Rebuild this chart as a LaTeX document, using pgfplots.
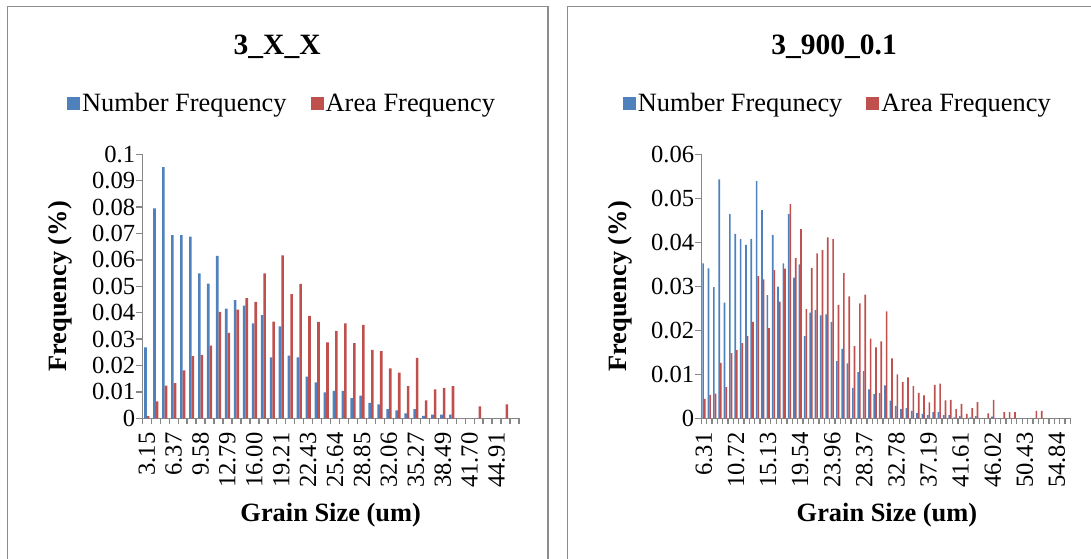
\documentclass[border=0pt]{standalone}
\usepackage{fontspec}
\setmainfont{Liberation Serif}
\usepackage{pgfplots}
\usepackage{pgfplotstable}
\pgfplotsset{compat=1.18}

\definecolor{numblue}{HTML}{4F81BD}
\definecolor{areared}{HTML}{C0504D}
\definecolor{axisgray}{HTML}{868686}
\definecolor{framegray}{HTML}{8C8C8C}
\newcommand{\fs}{\fontsize{26.4}{30}\selectfont}
\newcommand{\fst}{\fontsize{24.6}{28}\selectfont}
\newcommand{\fsh}{\fontsize{29.5}{34}\selectfont}

% left panel: 3_X_X (category index, number freq, area freq)
\pgfplotstableread{
x num area
0 0.0269 0.0008
1 0.0795 0.0064
2 0.0951 0.0124
3 0.0694 0.0133
4 0.0694 0.0182
5 0.0688 0.0236
6 0.0549 0.0240
7 0.0510 0.0275
8 0.0615 0.0403
9 0.0415 0.0324
10 0.0448 0.0412
11 0.0427 0.0455
12 0.0360 0.0441
13 0.0391 0.0549
14 0.0231 0.0366
15 0.0348 0.0617
16 0.0237 0.0470
17 0.0231 0.0509
18 0.0158 0.0388
19 0.0136 0.0365
20 0.0098 0.0288
21 0.0104 0.0331
22 0.0104 0.0360
23 0.0076 0.0285
24 0.0086 0.0354
25 0.0058 0.0259
26 0.0053 0.0254
27 0.0035 0.0189
28 0.0030 0.0173
29 0.0019 0.0122
30 0.0035 0.0229
31 0.0009 0.0068
32 0.0014 0.0110
33 0.0014 0.0115
34 0.0014 0.0122
35 0 0
36 0 0
37 0 0.0045
38 0 0
39 0 0
40 0 0.0053
41 0 0
}\leftdata

% right panel: 3_900_0.1
\pgfplotstableread{
x num area
0 0.0352 0.0044
1 0.0341 0.0053
2 0.0298 0.0056
3 0.0543 0.0126
4 0.0263 0.0071
5 0.0464 0.0148
6 0.0419 0.0155
7 0.0407 0.0171
8 0.0394 0.0187
9 0.0408 0.0219
10 0.0539 0.0323
11 0.0473 0.0316
12 0.0280 0.0205
13 0.0417 0.0337
14 0.0299 0.0265
15 0.0352 0.0340
16 0.0464 0.0487
17 0.0320 0.0364
18 0.0350 0.0430
19 0.0187 0.0248
20 0.0240 0.0342
21 0.0246 0.0375
22 0.0234 0.0382
23 0.0236 0.0411
24 0.0219 0.0407
25 0.0130 0.0258
26 0.0158 0.0330
27 0.0125 0.0277
28 0.0069 0.0164
29 0.0105 0.0261
30 0.0107 0.0281
31 0.0066 0.0181
32 0.0055 0.0161
33 0.0057 0.0175
34 0.0075 0.0243
35 0.0040 0.0136
36 0.0028 0.0100
37 0.0021 0.0082
38 0.0023 0.0093
39 0.0017 0.0073
40 0.0012 0.0058
41 0.0010 0.0052
42 0.0007 0.0036
43 0.0014 0.0076
44 0.0014 0.0079
45 0.0007 0.0041
46 0.0007 0.0042
47 0.0002 0.0021
48 0.0005 0.0033
49 0 0.0010
50 0.0002 0.0023
51 0.0005 0.0037
52 0 0
53 0 0.0011
54 0.0004 0.0042
55 0 0
56 0 0.0014
57 0 0.0014
58 0 0.0014
59 0 0
60 0 0
61 0 0
62 0 0.0017
63 0 0.0017
64 0 0
65 0 0
66 0 0
67 0 0
68 0 0
}\rightdata

\pgfplotsset{
  freqpanel/.style={
    scale only axis,
    height=264pt,
    anchor=south west,
    ymin=0,
    scaled y ticks=false,
    axis lines*=left,
    axis line style={axisgray, line width=1.5pt},
    tick align=outside,
    major tick length=0pt,
    minor tick length=6pt,
    minor tick style={axisgray, line width=1.3pt},
    tick label style={font=\fst, black},
    xticklabel style={rotate=90, anchor=east, inner sep=0pt, inner xsep=14pt},
    yticklabel style={anchor=east, inner sep=0pt, inner xsep=7pt},
    label style={font=\fs\bfseries},
    title style={font=\fsh\bfseries, anchor=base},
    ybar=0pt,
    legend style={draw=none, fill=none, font=\fs, legend columns=2,
      anchor=center, nodes={inner xsep=2pt},
      /tikz/every even column/.append style={column sep=22pt}},
    legend image code/.code={\fill[##1] (0pt,-6.5pt) rectangle (13pt,6.5pt);},
    clip=false,
  },
}

\begin{document}
\begin{tikzpicture}
\useasboundingbox (0,0) rectangle (1091pt,558pt);
\draw[framegray, line width=1.5pt] (7.5pt,-20pt) -- (7.5pt,551.5pt) -- (548pt,551.5pt) -- (548pt,-20pt);
\draw[framegray, line width=1.5pt] (567.5pt,-20pt) -- (567.5pt,551.5pt) -- (1120pt,551.5pt);

\begin{axis}[freqpanel,
    at={(142.3pt,139.7pt)}, width=376.7pt,
    xmin=-0.5, xmax=41.5, ymax=0.1,
    bar width=2.6pt,
    xtick={0,3,...,39},
    xticklabels={3.15,6.37,9.58,12.79,16.00,19.21,22.43,25.64,28.85,32.06,35.27,38.49,41.70,44.91},
    minor xtick={-0.5,0.5,...,41.5},
    ytick={0,0.01,0.02,0.03,0.04,0.05,0.06,0.07,0.08,0.09,0.1},
    yticklabels={0,0.01,0.02,0.03,0.04,0.05,0.06,0.07,0.08,0.09,0.1},
    minor ytick={0,0.01,0.02,0.03,0.04,0.05,0.06,0.07,0.08,0.09,0.1},
    xlabel={Grain Size (um)},
    ylabel={Frequency (\%)},
    xlabel style={at={(axis description cs:0.5,-0.367)}, anchor=center},
    ylabel style={at={(axis description cs:-0.218,0.5)}, anchor=center},
    title={3\_X\_X},
    title style={at={(axis description cs:0.358,1.357)}},
    legend style={at={(axis description cs:0.371,1.194)}},
  ]
  \addplot[fill=numblue, draw=none] table[x=x, y=num] {\leftdata};
  \addplot[fill=areared, draw=none] table[x=x, y=area] {\leftdata};
  \legend{Number Frequency, Area Frequency}
\end{axis}

\begin{axis}[freqpanel,
    at={(701.3pt,139.7pt)}, width=369pt,
    xmin=-0.5, xmax=68.5, ymax=0.06,
    bar width=1.65pt,
    xtick={0,6,...,66},
    xticklabels={6.31,10.72,15.13,19.54,23.96,28.37,32.78,37.19,41.61,46.02,50.43,54.84},
    minor xtick={-0.5,0.5,...,68.5},
    ytick={0,0.01,0.02,0.03,0.04,0.05,0.06},
    yticklabels={0,0.01,0.02,0.03,0.04,0.05,0.06},
    minor ytick={0,0.01,0.02,0.03,0.04,0.05,0.06},
    xlabel={Grain Size (um)},
    ylabel={Frequency (\%)},
    xlabel style={at={(axis description cs:0.503,-0.367)}, anchor=center},
    ylabel style={at={(axis description cs:-0.22,0.5)}, anchor=center},
    title={3\_900\_0.1},
    title style={at={(axis description cs:0.36,1.357)}},
    legend style={at={(axis description cs:0.370,1.194)}},
  ]
  \addplot[fill=numblue, draw=none] table[x=x, y=num] {\rightdata};
  \addplot[fill=areared, draw=none] table[x=x, y=area] {\rightdata};
  \legend{Number Frequnecy, Area Frequency}
\end{axis}
\end{tikzpicture}
\end{document}
